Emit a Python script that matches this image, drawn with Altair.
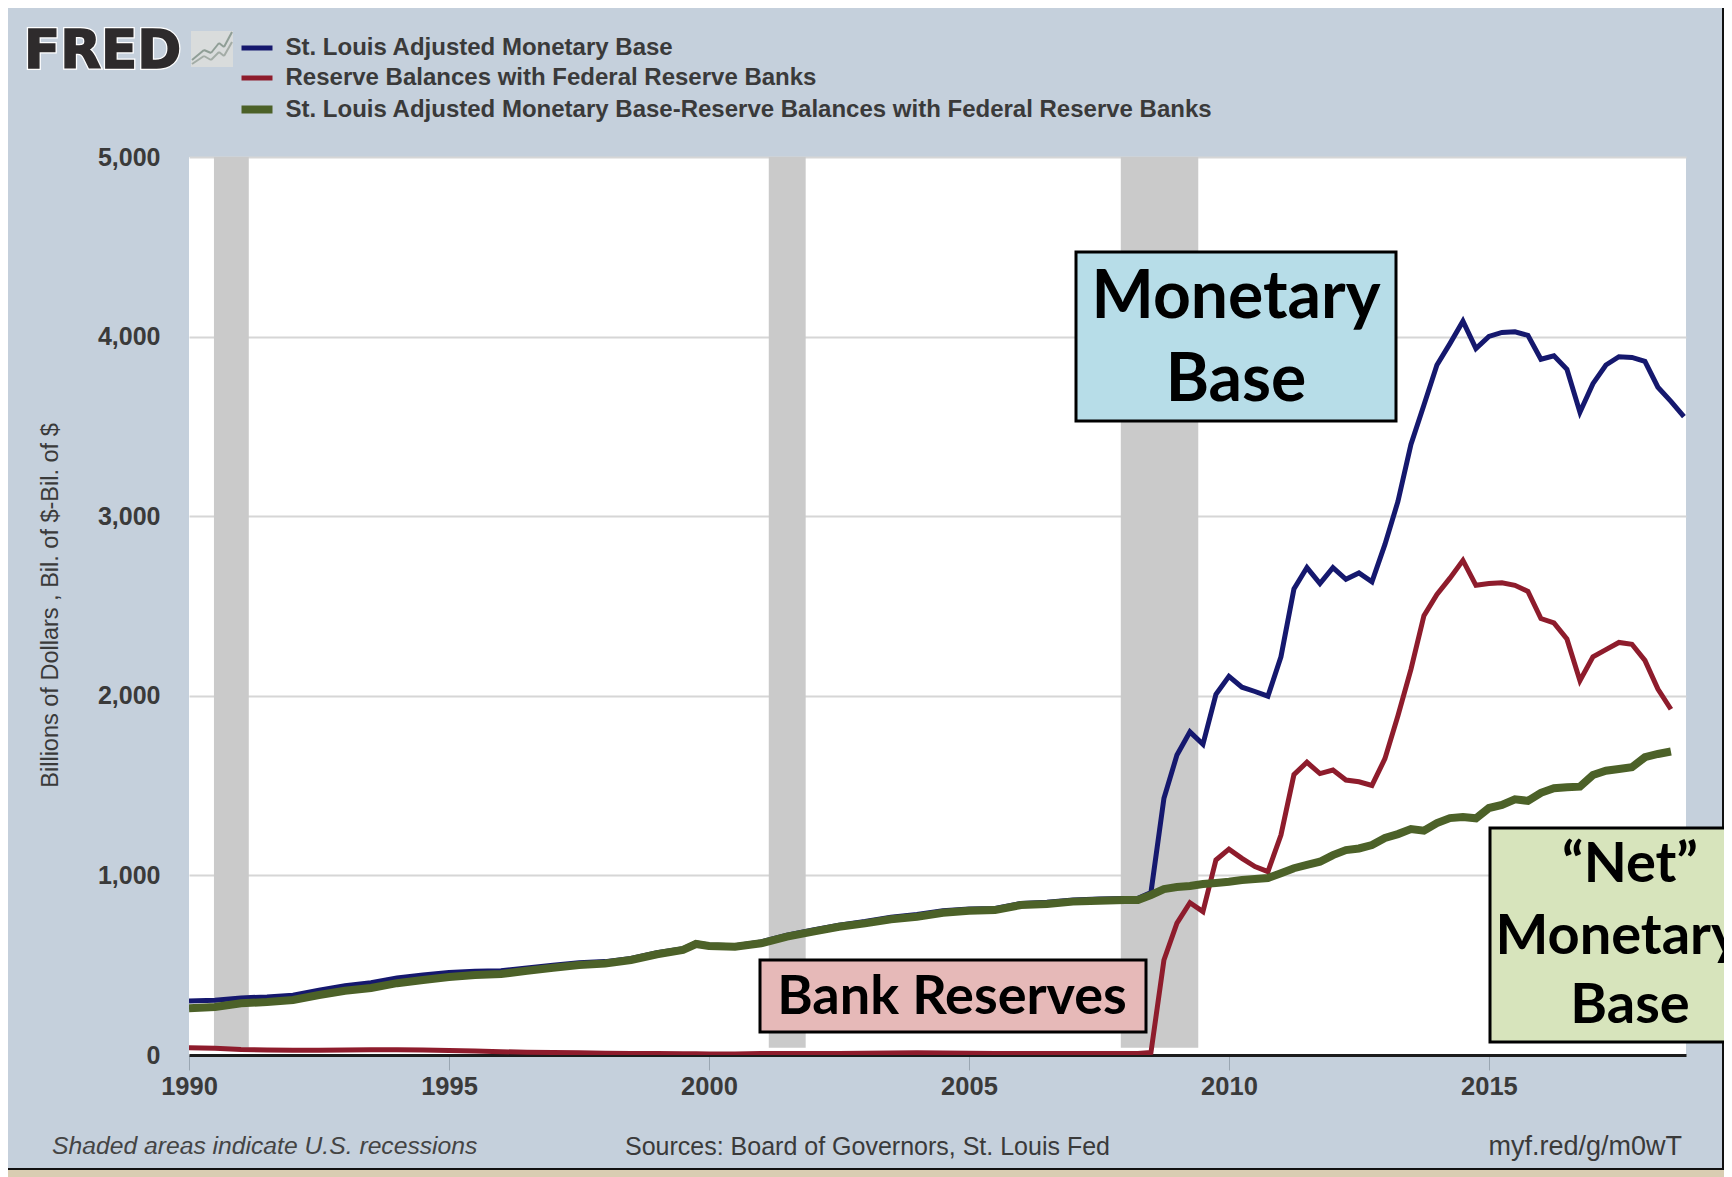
import altair as alt
import pandas as pd

# ---- data ----
years_early = [1990, 1990.5, 1991, 1991.5, 1992, 1992.5, 1993, 1993.5, 1994, 1994.5, 1995, 1995.5,
               1996, 1996.5, 1997, 1997.5, 1998, 1998.5, 1999, 1999.5, 1999.75, 2000, 2000.5, 2001,
               2001.5, 2002, 2002.5, 2003, 2003.5, 2004, 2004.5, 2005, 2005.5, 2006, 2006.5, 2007,
               2007.5, 2008]
years_late = [2008.25, 2008.5, 2008.75, 2009, 2009.25, 2009.5, 2009.75, 2010, 2010.25, 2010.5,
              2010.75, 2011, 2011.25, 2011.5, 2011.75, 2012, 2012.25, 2012.5, 2012.75, 2013,
              2013.25, 2013.5, 2013.75, 2014, 2014.25, 2014.5, 2014.75, 2015, 2015.25, 2015.5,
              2015.75, 2016, 2016.25, 2016.5, 2016.75, 2017, 2017.25, 2017.5, 2017.75, 2018,
              2018.25, 2018.5, 2018.75]

base_values = [300, 305, 318, 323, 333, 361, 386, 402, 429, 446, 459, 467, 469, 485, 500, 513, 520, 538,
               569, 592, 625, 613, 609, 630, 667, 696, 723, 743, 767, 782, 803, 813, 816, 844, 850, 863,
               868, 872,
               872, 905, 1430, 1670, 1799, 1730, 2008, 2108, 2048, 2024, 1998, 2217, 2595, 2714, 2625,
               2714, 2649, 2684, 2635, 2843, 3082, 3400, 3619, 3842, 3961, 4086, 3933, 4001, 4023, 4027,
               4007, 3874, 3893, 3818, 3579, 3738, 3842, 3888, 3884, 3862, 3718, 3639, 3555]
reserve_values = [40, 38, 30, 28, 27, 27, 28, 29, 29, 28, 25, 22, 18, 16, 14, 12, 10, 9, 8, 7, 7, 6, 6, 8,
                  8, 9, 9, 10, 11, 12, 11, 10, 9, 9, 9, 9, 9, 9,
                  9, 14, 529, 734, 848, 798, 1086, 1146, 1095, 1049, 1021, 1225, 1561, 1630, 1567,
                  1587, 1531, 1521, 1501, 1650, 1889, 2147, 2446, 2565, 2655, 2754, 2615, 2625, 2629,
                  2615, 2581, 2430, 2406, 2316, 2084, 2217, 2257, 2297, 2287, 2197, 2038, 1925]
net_values = [260, 267, 288, 295, 306, 334, 358, 373, 400, 418, 434, 445, 451, 469, 486, 501, 510, 529,
              561, 585, 618, 607, 603, 622, 659, 687, 714, 733, 756, 770, 792, 803, 807, 835, 841, 854,
              859, 863,
              863, 891, 924, 935, 941, 952, 958, 965, 974, 980, 985, 1012, 1040, 1058, 1076,
              1113, 1141, 1150, 1169, 1208, 1230, 1258, 1249, 1291, 1319, 1325, 1318, 1375, 1392, 1424,
              1415, 1460, 1485, 1491, 1494, 1559, 1583, 1592, 1602, 1658, 1676, 1690]

series_names = ["St. Louis Adjusted Monetary Base",
                "Reserve Balances with Federal Reserve Banks",
                "St. Louis Adjusted Monetary Base-Reserve Balances with Federal Reserve Banks"]
series_colors = ["#15186e", "#8e1c2c", "#4c6128"]
series_widths = [5, 5, 8]

recession_start = [1990.48, 2001.15, 2007.92]
recession_end = [1991.15, 2001.86, 2009.41]

x_ticks = [1990, 1995, 2000, 2005, 2010, 2015]
y_ticks = [0, 1000, 2000, 3000, 4000, 5000]

all_years = years_early + years_late
rows = []
for name, vals in zip(series_names, [base_values, reserve_values, net_values]):
    for yr, v in zip(all_years, vals):
        rows.append({"year": yr, "value": v, "series": name})
df = pd.DataFrame(rows)
rec = pd.DataFrame({"start": recession_start, "end": recession_end, "low": [40] * 3, "high": [5000] * 3})

# ---- layout: page pixel -> plot pixel ----
OX, OY = 189, 157
PLOT_W, PLOT_H = 1497, 898
FONT = "Liberation Sans"
INK = "#3a3a3a"
PANEL = "#c5d0dc"
PARCH = "#d9cdb2"


def px(v):
    return alt.value(v - OX)


def py(v):
    return alt.value(v - OY)


def box(x0, y0, x1, y1, fill, sw=3, stroke="black"):
    return alt.Chart().mark_rect(fill=fill, stroke=stroke, strokeWidth=sw).encode(
        x=px(x0), x2=px(x1), y=py(y0), y2=py(y1))


def txt(s, x, y, size, align="center", color="black", font=FONT, weight="normal", style="normal",
        stroke=None, sw=0):
    kw = dict(text=s, fontSize=size, align=align, baseline="middle", color=color, font=font,
              fontWeight=weight, fontStyle=style)
    if stroke:
        kw.update(stroke=stroke, strokeWidth=sw)
    return alt.Chart().mark_text(**kw).encode(x=px(x), y=py(y))


x_scale = alt.Scale(domain=[1990, 2018.79], nice=False, zero=False)
y_scale = alt.Scale(domain=[0, 5000], nice=False)

bands = alt.Chart(rec).mark_rect(color="#cacaca").encode(
    x=alt.X("start:Q", scale=x_scale,
            axis=alt.Axis(values=x_ticks, format="d", title=None, grid=False, domainColor="#1c1c1c",
                          domainWidth=3, tickColor="#9aa6b2", tickWidth=1, tickSize=15, labelPadding=4,
                          labelFontSize=25.5, labelFont=FONT, labelColor=INK, labelFontWeight="bold",
                          labelFlush=False)),
    x2="end:Q",
    y=alt.Y("low:Q", scale=y_scale,
            axis=alt.Axis(values=y_ticks, format=",d", grid=True, gridColor="#d6d6d6", gridWidth=2,
                          domain=False, ticks=False, labelPadding=29, labelFontSize=25, labelFont=FONT,
                          labelColor=INK, labelFontWeight="bold",
                          title="Billions of Dollars , Bil. of $-Bil. of $",
                          titleFont=FONT, titleFontSize=23.5, titleFontWeight="normal", titleColor=INK,
                          titleAngle=270, titleX=-139, titleY=448, titleBaseline="middle",
                          titleAlign="center")),
    y2="high:Q",
)

legend = alt.Legend(orient="none", legendX=48.5, legendY=-127, title=None, symbolType="stroke",
                    symbolSize=961, labelFont=FONT, labelFontSize=24, labelColor=INK,
                    labelFontWeight="bold", labelLimit=1200, rowPadding=0, labelOffset=9,
                    symbolOpacity=1)

lines = alt.Chart(df).mark_line(strokeJoin="miter", clip=True).encode(
    x=alt.X("year:Q", scale=x_scale),
    y=alt.Y("value:Q", scale=y_scale),
    color=alt.Color("series:N", sort=series_names,
                    scale=alt.Scale(domain=series_names, range=series_colors), legend=legend),
    strokeWidth=alt.StrokeWidth("series:N", sort=series_names,
                                scale=alt.Scale(type="ordinal", domain=series_names, range=series_widths),
                                legend=legend),
)

# FRED logo and small icon
icon_lines = []
for pts, col in [([(192, 60), (204, 50), (211, 53), (219, 43), (224, 47), (232, 32)], "#8f9e96"),
                 ([(192, 64), (204, 56), (211, 60), (219, 52), (224, 56), (232, 42)], "#a3aca6")]:
    for (a, b), (c, d) in zip(pts[:-1], pts[1:]):
        icon_lines.append(alt.Chart().mark_rule(color=col, strokeWidth=2).encode(
            x=px(a), x2=px(c), y=py(b), y2=py(d)))
icon_box = alt.Chart().mark_rect(fill="#d9dcdc").encode(x=px(191), x2=px(233), y=py(31), y2=py(67))

decor = [
    # outer parchment edge and the black frame of the panel
    box(0, 1170, 1760, 1190, PARCH, sw=0, stroke=PARCH),
    box(1722, 0, 1760, 1170, "#111111", sw=0, stroke="#111111"),
    box(0, 1168, 1760, 1170, "#111111", sw=0, stroke="#111111"),
    icon_box, *icon_lines,
    txt("FRED", 24, 52, 53, align="left", color="#2e2b2c", font="DejaVu Sans", weight="bold",
        stroke="white", sw=4),
    txt("FRED", 24, 52, 53, align="left", color="#2e2b2c", font="DejaVu Sans", weight="bold",
        stroke="#2e2b2c", sw=1.5),
    txt("Shaded areas indicate U.S. recessions", 52, 1147, 24.7, align="left", style="italic", color="#444444"),
    txt("Sources: Board of Governors, St. Louis Fed", 625, 1147, 25, align="left", color=INK),
    txt("myf.red/g/m0wT", 1682, 1147, 27, align="right", color=INK),
]

big = dict(font="Lato", weight="bold", color="black")
annotations = [
    box(1076, 252, 1396, 421, "#b7dde8"),
    txt("Monetary", 1236, 298, 66, **big),
    txt("Base", 1236, 381, 66, **big),
    box(760, 960, 1146, 1032, "#e6b9b8"),
    txt("Bank Reserves", 952, 998, 54, **big),
    box(1490, 828, 1760, 1042, "#d7e4bc"),
    txt("\u201cNet\u201d", 1630, 865, 56, **big),
    txt("Monetary", 1618, 937, 56, **big),
    txt("Base", 1630, 1006, 56, **big),
]

chart = alt.layer(bands, lines, *decor, *annotations).properties(
    width=PLOT_W, height=PLOT_H,
    padding={"left": OX - 8, "top": OY - 8, "right": 1716 - (OX - 8) - PLOT_W, "bottom": 1169 - (OY - 8) - PLOT_H},
    autosize=alt.AutoSizeParams(type="none"),
    background=PANEL,
).configure_view(fill="white", stroke=None)

chart.save("out.html", embed_options={"renderer": "svg", "actions": False})
